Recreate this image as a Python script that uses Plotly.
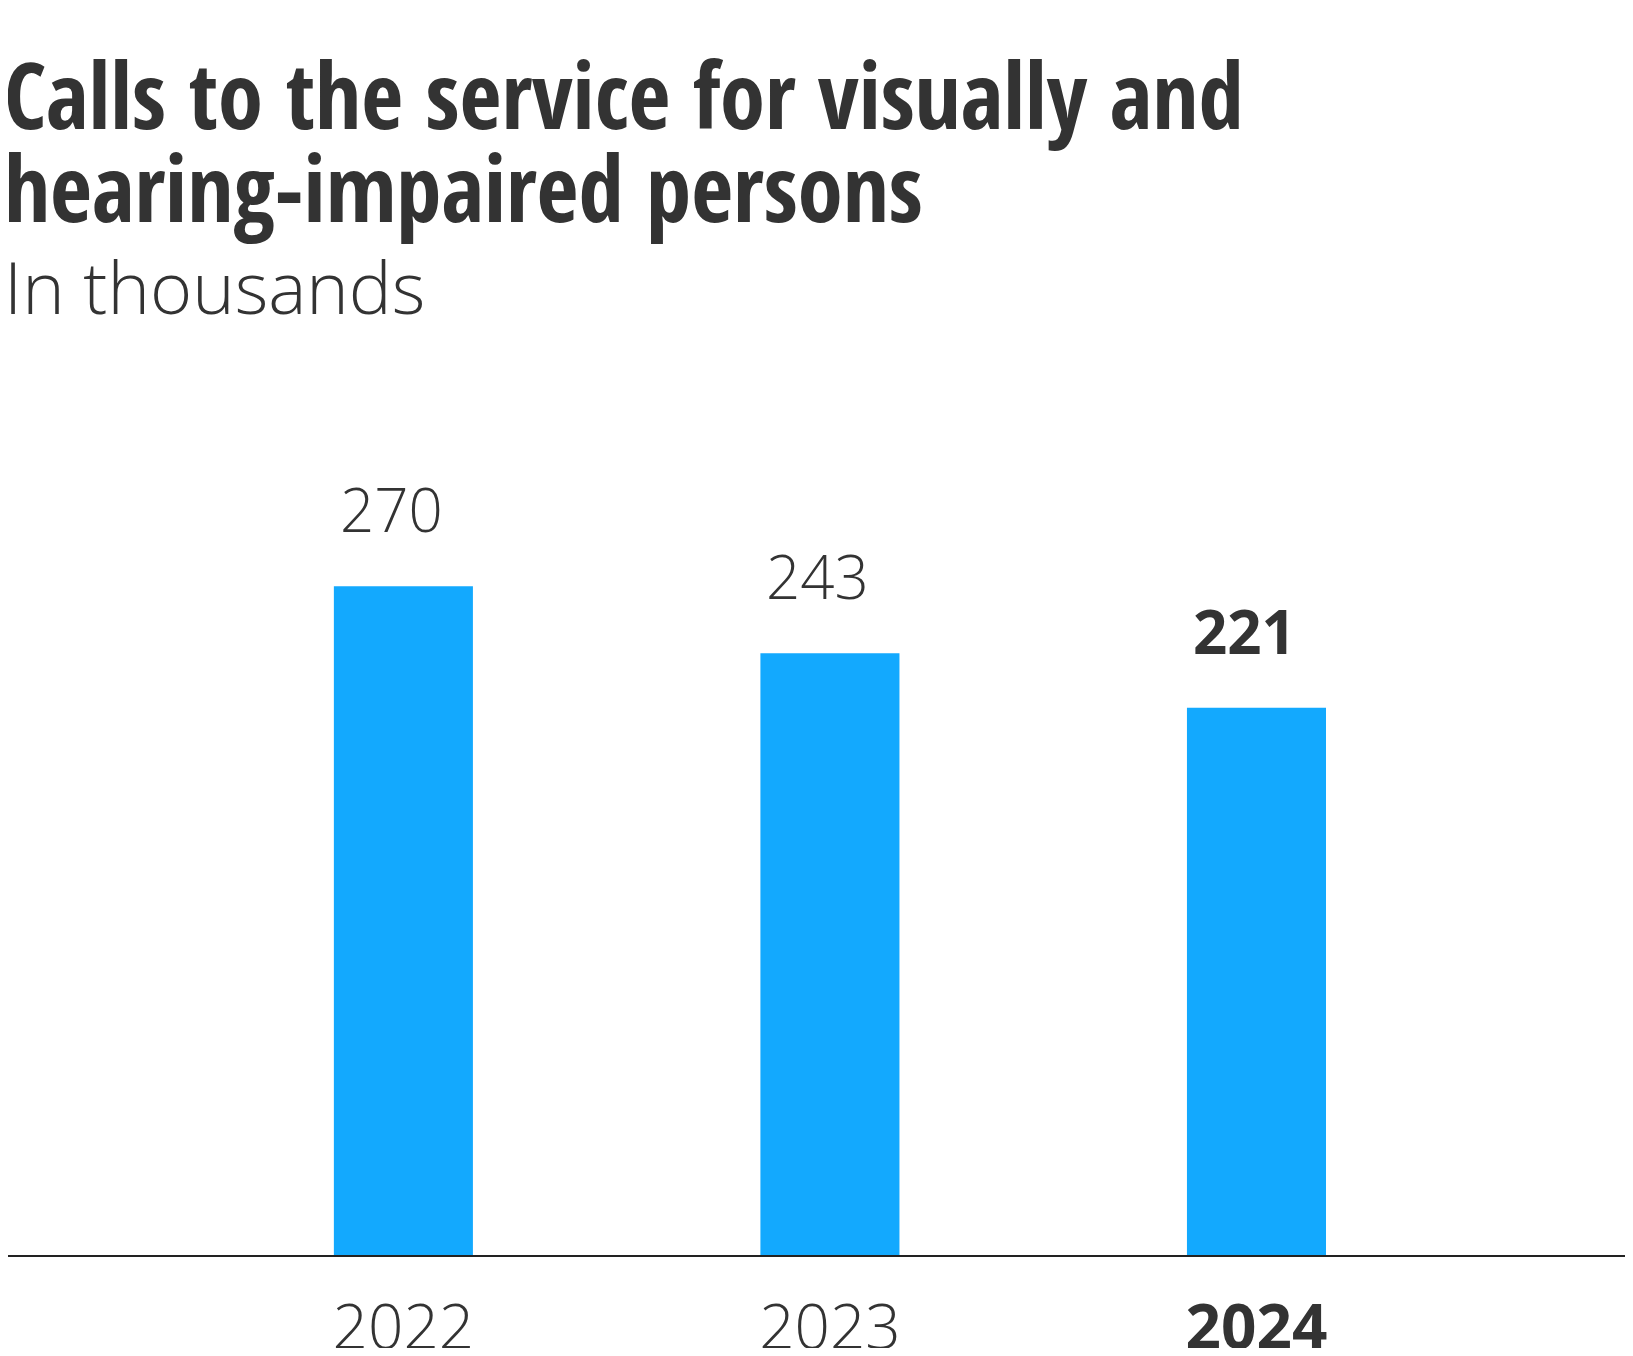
import plotly.graph_objects as go

years = ["2022", "2023", "2024"]
calls_thousands = [270, 243, 221]
tick_labels = ["2022", "2023", "<b>2024</b>"]
value_labels = ["270", "243", "<b>221</b>"]

title_line1 = "Calls to the service for visually and"
title_line2 = "hearing-impaired persons"
subtitle = "In thousands"

TEXT = "#333333"
BAR = "#13A9FE"
FONT = "Open Sans, Liberation Sans, sans-serif"
TITLE_FONT = "Open Sans Condensed, Open Sans, sans-serif"

# the page body adds an 8px offset; the figure is sized to fit the window
W, H = 1617, 1340
ML, MR, MT, MB = 0, 0, 504, 93
PH = H - MT - MB

fig = go.Figure(go.Bar(
    x=years, y=calls_thousands, width=0.326,
    marker=dict(color=BAR, line=dict(width=0)),
    hoverinfo="skip",
))

for i, (v, lab) in enumerate(zip(calls_thousands, value_labels)):
    fig.add_annotation(x=i, y=v, xref="x", yref="y", text=lab, showarrow=False,
                       yanchor="bottom", xanchor="center", yshift=34, xshift=-12,
                       font=dict(family=FONT, size=60, color=TEXT, weight=300))

def py2paper(py):
    return (H - MB - py) / PH

TS = 91
fig.add_annotation(x=0, y=py2paper(122 + 0.293 * TS + 1), xref="paper", yref="paper",
                   text="<b>" + title_line1 + "</b>",
                   showarrow=False, xanchor="left", yanchor="bottom", xshift=-6,
                   font=dict(family=TITLE_FONT, size=TS, color=TEXT))
fig.add_annotation(x=0, y=py2paper(215 + 0.293 * TS + 1), xref="paper", yref="paper",
                   text="<b>" + title_line2 + "</b>",
                   showarrow=False, xanchor="left", yanchor="bottom", xshift=-6,
                   font=dict(family=TITLE_FONT, size=TS, color=TEXT))
SS = 72
fig.add_annotation(x=0, y=py2paper(307 + 0.293 * SS + 1), xref="paper", yref="paper", text=subtitle,
                   showarrow=False, xanchor="left", yanchor="bottom", xshift=-6,
                   font=dict(family=FONT, size=SS, color=TEXT, weight=300))

fig.update_layout(
    template="none",
    width=W, height=H,
    margin=dict(l=ML, r=MR, t=MT, b=MB, pad=0, autoexpand=False),
    paper_bgcolor="white", plot_bgcolor="white",
    showlegend=False,
    font=dict(family=FONT, color=TEXT),
    xaxis=dict(type="category", range=[-0.927, 2.864], tickmode="array", automargin=False,
               tickvals=years, ticktext=tick_labels, showgrid=False, zeroline=False,
               showline=True, linecolor="#222222", linewidth=2, ticks="",
               ticklabelstandoff=18, tickfont=dict(family=FONT, size=62, color=TEXT, weight=300)),
    yaxis=dict(range=[0, 300], visible=False, showgrid=False, zeroline=False, automargin=False),
)

fig.write_html("out.html")
